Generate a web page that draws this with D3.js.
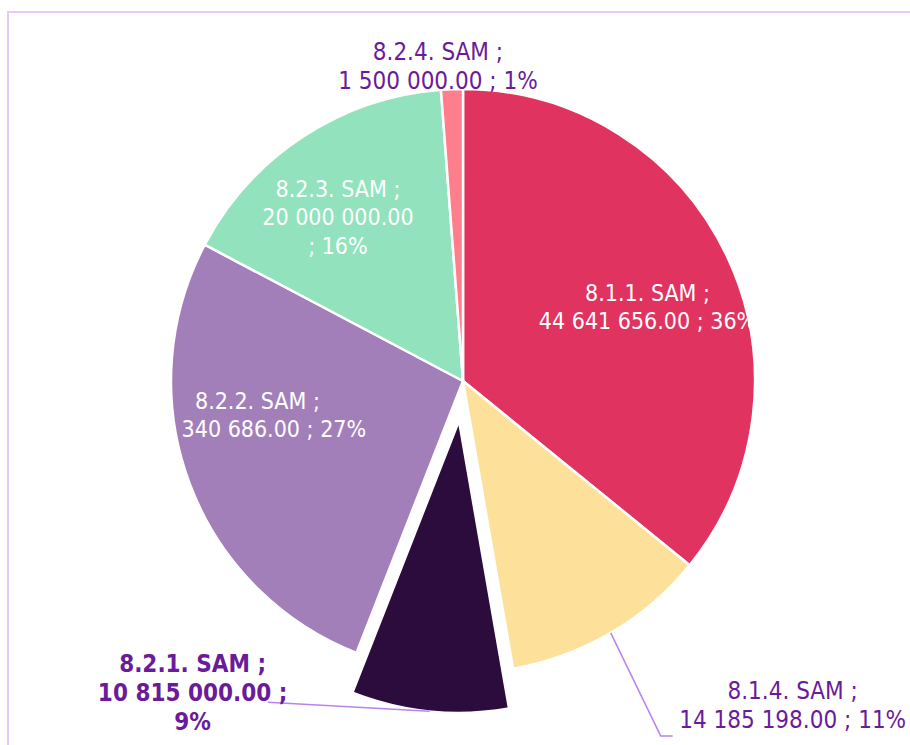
<!DOCTYPE html>
<html>
<head>
<meta charset="utf-8">
<script src="https://cdn.jsdelivr.net/npm/d3@7"></script>
<style>
  html, body { margin: 0; padding: 0; background: #fff; overflow: hidden; }
  text { font-family: "DejaVu Sans Condensed", "DejaVu Sans", sans-serif; font-stretch: condensed; }
</style>
</head>
<body>
<script>
const width = 910;
const height = 745;

const categories = ["8.1.1. SAM", "8.1.4. SAM", "8.2.1. SAM", "8.2.2. SAM", "8.2.3. SAM", "8.2.4. SAM"];
const amounts = [44641656, 14185198, 10815000, 33340686, 20000000, 1500000];
const colors = ["#e0335f", "#fde19b", "#2c0b3d", "#a37fba", "#92e2bd", "#ff7e8b"];

// how each label is placed: inside the slice (with a small nudge), or outside with a leader line
const labelLayout = {
    "8.1.1. SAM": {inside: true, nudge: [0, 14]},
    "8.1.4. SAM": {inside: false, leader: [[50, 103], [62, 103]], text: [182, 66], wrap: "none"},
    "8.2.1. SAM": {inside: false, explode: 40, bold: true, leader: [[-162, -9]], text: [-237, -39], wrap: "after"},
    "8.2.2. SAM": {inside: true, nudge: [-14, -37]},
    "8.2.3. SAM": {inside: true, nudge: [-13, 7], wrap: "before"},
    "8.2.4. SAM": {inside: false, leader: [], text: [-14, -29], wrap: "none"}
};

const cx = 463, cy = 381, radius = 292;
const labelPurple = "#6a1b9a";

const svg = d3.select("body").append("svg")
    .attr("width", width)
    .attr("height", height);

svg.append("rect")
    .attr("x", 8).attr("y", 12)
    .attr("width", 1200).attr("height", 1200)
    .attr("fill", "none")
    .attr("stroke", "#e6c9f5")
    .attr("stroke-width", 2);

const data = categories.map((c, i) => ({name: c, amount: amounts[i], color: colors[i]}));
const total = d3.sum(amounts);
const fmtAmount = v => d3.format(",.2f")(v).replace(/,/g, " ");
const fmtPct = v => Math.round(v / total * 100) + "%";

const pie = d3.pie().sort(null).value(d => d.amount);
const arcs = pie(data);
const arc = d3.arc().innerRadius(0).outerRadius(radius);
const labelArc = d3.arc().innerRadius(radius * 0.70).outerRadius(radius * 0.70);

const midAngle = d => (d.startAngle + d.endAngle) / 2;
const shift = d => {
    const e = labelLayout[d.data.name].explode || 0;
    const a = midAngle(d);
    return [Math.sin(a) * e, -Math.cos(a) * e];
};

const g = svg.append("g").attr("transform", `translate(${cx},${cy})`);

g.selectAll("path.slice")
    .data(arcs)
    .join("path")
    .attr("class", "slice")
    .attr("transform", d => `translate(${shift(d)})`)
    .attr("d", arc)
    .attr("fill", d => d.data.color)
    .attr("stroke", "#fff")
    .attr("stroke-width", 2.5)
    .attr("stroke-linejoin", "round");

function labelLines(d) {
    const name = d.data.name + " ;";
    const amt = fmtAmount(d.data.amount);
    const pct = fmtPct(d.data.amount);
    const wrap = labelLayout[d.data.name].wrap;
    if (wrap === "before") return [name, amt, "; " + pct];
    if (wrap === "after") return [name, amt + " ;", pct];
    return [name, amt + " ; " + pct];
}

// inside labels
const inner = arcs.filter(d => labelLayout[d.data.name].inside);
inner.forEach(d => {
    const nudge = labelLayout[d.data.name].nudge || [0, 0];
    const [x, y] = labelArc.centroid(d).map((v, i) => v + nudge[i]);
    const lines = labelLines(d);
    const lh = 28.5;
    const t = g.append("text")
        .attr("text-anchor", "middle")
        .attr("font-size", 23)
        .attr("fill", "#fff");
    lines.forEach((l, i) => {
        t.append("tspan")
            .attr("x", x)
            .attr("y", y + (i - (lines.length - 1) / 2) * lh + 8)
            .text(l);
    });
});

// outside labels with leader lines
const outer = arcs.filter(d => !labelLayout[d.data.name].inside);
outer.forEach(d => {
    const lay = labelLayout[d.data.name];
    const [sx, sy] = shift(d);
    const a = midAngle(d);
    const p0 = [sx + Math.sin(a) * radius, sy - Math.cos(a) * radius];
    if (lay.leader.length) {
        const pts = [p0].concat(lay.leader.map(o => [p0[0] + o[0], p0[1] + o[1]]));
        g.append("path")
            .attr("d", d3.line()(pts))
            .attr("fill", "none")
            .attr("stroke", "#b784ee")
            .attr("stroke-width", 1.5);
    }
    const lines = labelLines(d);
    const lh = 29;
    const tx = p0[0] + lay.text[0];
    const ty = p0[1] + lay.text[1];   // first baseline
    const t = g.append("text")
        .attr("text-anchor", "middle")
        .attr("font-size", 24)
        .attr("font-weight", lay.bold ? "bold" : "normal")
        .attr("fill", labelPurple);
    lines.forEach((l, i) => {
        t.append("tspan")
            .attr("x", tx)
            .attr("y", ty + i * lh)
            .text(l);
    });
});
</script>
</body>
</html>
